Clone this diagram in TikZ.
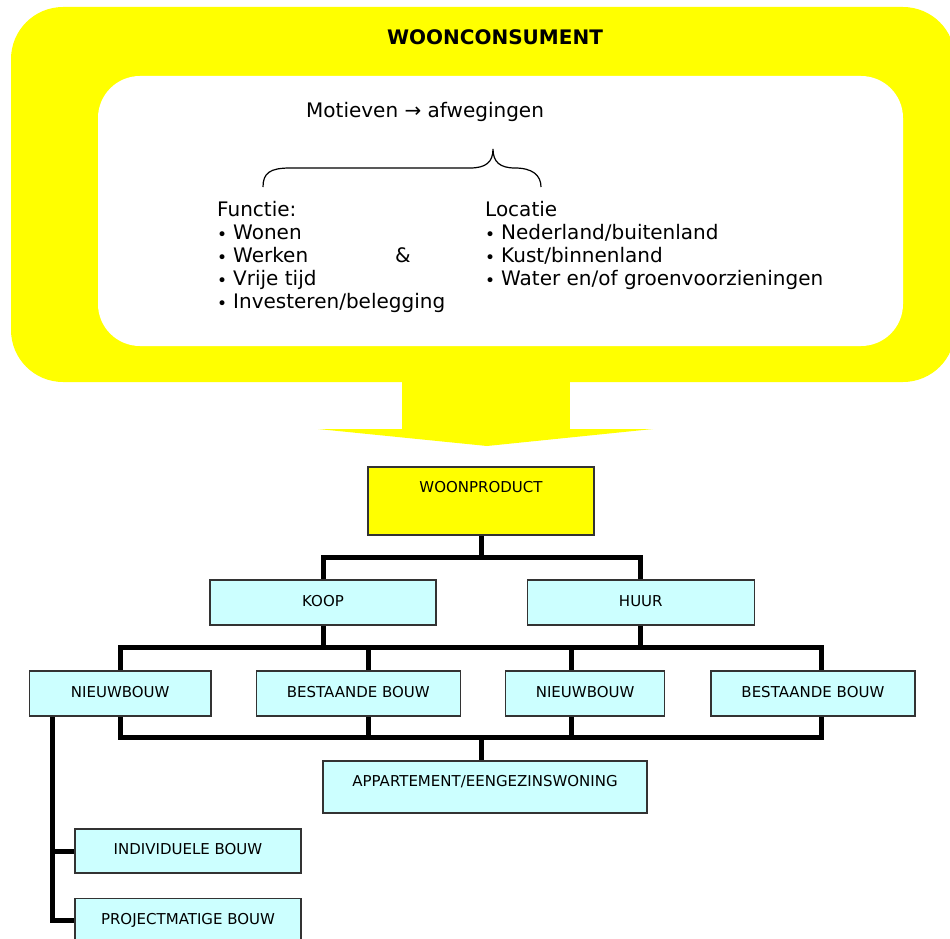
\documentclass[tikz,border=0pt]{standalone}
\usepackage{fontspec}
\setmainfont{DejaVu Sans}
\usetikzlibrary{positioning,backgrounds}
\definecolor{woongeel}{HTML}{FFFF00}
\definecolor{woonblauw}{HTML}{CCFFFF}
\definecolor{rand}{HTML}{333333}
\newcommand{\bul}{\makebox[16pt][l]{\raisebox{-1pt}{\scalebox{0.85}{•}}}}

\begin{document}
\begin{tikzpicture}[x=1pt,y=-1pt,
  txt/.style={inner sep=0pt,font=\fontsize{20}{23}\selectfont,align=left},
  keuze/.style={draw=rand,line width=1.3pt,fill=woonblauw,inner ysep=0pt,minimum height=45pt,
    text height=11pt,text depth=4pt,font=\fontsize{15}{18}\selectfont},
  conn/.style={line width=5pt}]
\clip (0,0) rectangle (950,939);
% consument: gele pijl
\fill[woongeel,rounded corners=52pt] (11,7) rectangle (955,382);
\fill[woongeel] (402,378) rectangle (570,429);
\fill[woongeel] (318,429) -- (653,429) -- (487,446) -- cycle;
\fill[white,rounded corners=42pt] (98,76) rectangle (903,346);
\node[txt,font=\fontsize{20}{23}\selectfont\bfseries,anchor=base] (consument) at (495,45) {WOONCONSUMENT};
\node[txt,anchor=base west] (motieven) at (306,118) {Motieven → afwegingen};
\draw[line width=1.2pt] (263,187) .. controls (263,173) and (270,168) .. (290,168) -- (470,168)
  .. controls (486,168) and (493,162) .. (493,149) .. controls (493,162) and (500,168) .. (515,168)
  .. controls (532,168) and (541,175) .. (541,187);
% onderste regel bepaalt de basislijn
\node[txt,anchor=base west] (functie) at (217,308) {Functie:\\\bul Wonen\\\bul Werken\\\bul Vrije tijd\\\bul Investeren/belegging};
\node[txt,anchor=base west] (en) at (395,262) {\&};
\node[txt,anchor=base west] (locatie) at (485,285) {Locatie\\\bul Nederland/buitenland\\\bul Kust/binnenland\\\bul Water en/of groenvoorzieningen};
% product
\node[keuze,fill=woongeel,minimum width=226pt,text height=25.5pt,text depth=42.5pt] (woonproduct) at (481,501) {WOONPRODUCT};
\node[keuze,minimum width=226pt] (koop) at (323,602.5) {KOOP};
\node[keuze,minimum width=227pt,right=90pt of koop] (huur) {HUUR};
\node[keuze,minimum width=181.5pt] (nieuw1) at (120.25,693.5) {NIEUWBOUW};
\node[keuze,minimum width=204pt,right=44pt of nieuw1] (bestaand1) {BESTAANDE BOUW};
\node[keuze,minimum width=159pt,right=44pt of bestaand1] (nieuw2) {NIEUWBOUW};
\node[keuze,minimum width=204pt,right=45pt of nieuw2] (bestaand2) {BESTAANDE BOUW};
\node[keuze,minimum width=324pt,text height=25.5pt,text depth=26.5pt] (woning) at (485,787) {APPARTEMENT/EENGEZINSWONING};
\node[keuze,minimum width=226pt,minimum height=44pt] (individueel) at (188,851) {INDIVIDUELE BOUW};
\node[keuze,minimum width=226pt,below=24pt of individueel] (project) {PROJECTMATIGE BOUW};
% verbindingen
\coordinate (b1) at (482,557);
\coordinate (b2l) at (120,647);
\coordinate (b2r) at (821,737);
\coordinate (b3) at (481,737);
\coordinate (lt) at (52,716);
\begin{scope}[on background layer]
\draw[conn] (woonproduct.south) -- (woonproduct.south |- b1);
\draw[conn] (koop.north) -- (koop.north |- b1) -| (huur.north);
\draw[conn] (koop.south) -- (koop.south |- b2l);
\draw[conn] (huur.south) -- (huur.south |- b2l);
\draw[conn] (b2l) rectangle (b2r);
\draw[conn] (368,647) -- (368,737);
\draw[conn] (571,647) -- (571,737);
\draw[conn] (b3) -- (b3 |- woning.north);
\draw[conn] (lt) |- (project.west);
\draw[conn] (lt |- individueel.west) -- (individueel.west);
\end{scope}
\end{tikzpicture}
\end{document}
